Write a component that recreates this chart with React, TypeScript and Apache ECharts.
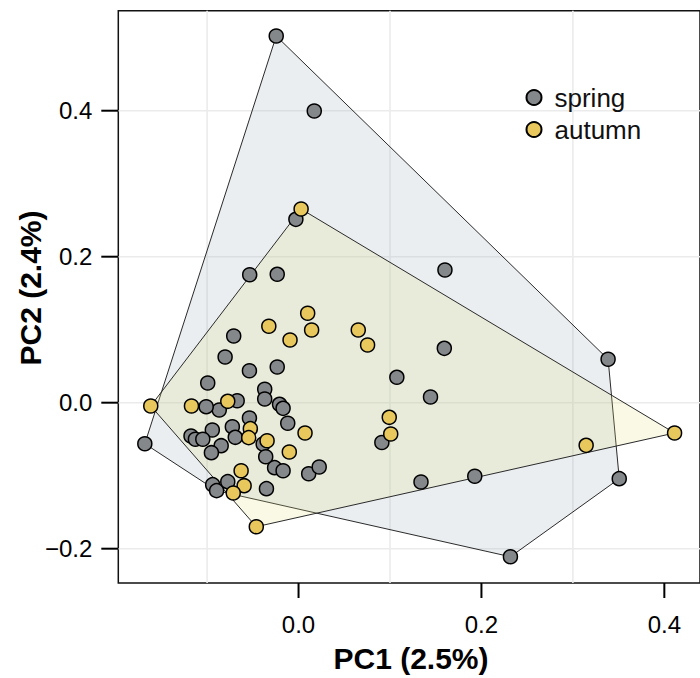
import React, { useEffect, useRef } from 'react';
import * as echarts from 'echarts';

const seriesNames = ['spring', 'autumn'];

const springPoints: [number, number][] = [
  [-0.0244, 0.5023], [0.0172, 0.3996], [-0.0029, 0.2512], [-0.0534, 0.1753],
  [-0.0233, 0.1759], [0.1601, 0.1818], [0.3385, 0.0595], [0.3507, -0.1041],
  [0.2317, -0.2110], [0.1927, -0.1008], [0.1339, -0.1086], [0.1594, 0.0745],
  [0.1443, 0.0078], [0.1075, 0.0348], [0.0911, -0.0545], [-0.1681, -0.0562],
  [-0.0709, 0.0914], [-0.0803, 0.0626], [-0.0537, 0.0438], [-0.0233, 0.0489],
  [-0.0993, 0.0270], [-0.0370, 0.0184], [-0.0370, 0.0051], [-0.0671, 0.0027],
  [-0.0867, -0.0100], [-0.1010, -0.0055], [-0.0208, -0.0022], [-0.0169, -0.0077],
  [-0.0537, -0.0210], [-0.0118, -0.0282], [-0.0724, -0.0329], [-0.0943, -0.0374],
  [-0.1176, -0.0456], [-0.1128, -0.0501], [-0.1047, -0.0501], [-0.0692, -0.0474],
  [-0.0846, -0.0589], [-0.0953, -0.0685], [-0.0387, -0.0566], [-0.0359, -0.0740],
  [-0.0262, -0.0890], [-0.0169, -0.0932], [0.0111, -0.0973], [0.0226, -0.0881],
  [-0.0939, -0.1123], [-0.0896, -0.1205], [-0.0774, -0.1082], [-0.0351, -0.1178],
];

const autumnPoints: [number, number][] = [
  [0.0028, 0.2653], [0.0100, 0.1225], [-0.0325, 0.1047], [0.0143, 0.0996],
  [-0.0093, 0.0859], [0.0653, 0.0996], [0.0755, 0.0790], [-0.1616, -0.0045],
  [-0.1171, -0.0045], [-0.0774, 0.0019], [-0.0527, -0.0356], [-0.0545, -0.0479],
  [-0.0344, -0.0521], [0.0071, -0.0415], [-0.0101, -0.0675], [-0.0628, -0.0932],
  [-0.0595, -0.1137], [-0.0714, -0.1237], [-0.0462, -0.1699], [0.0992, -0.0200],
  [0.1008, -0.0429], [0.3145, -0.0584], [0.4112, -0.0415],
];

const xTicks = [0, 0.2, 0.4];
const yTicks = [-0.2, 0, 0.2, 0.4];
const xGridValues = [-0.1, 0.1, 0.3];
const yGridValues = [-0.2, 0, 0.2, 0.4];
const xRange = [-0.1971, 0.439];
const yRange = [-0.247, 0.537];
const xTitle = 'PC1 (2.5%)';
const yTitle = 'PC2 (2.4%)';

const FONT = "'Liberation Sans', Arial, Helvetica, sans-serif";

function convexHull(points: [number, number][]): [number, number][] {
  const p = [...points].sort((a, b) => a[0] - b[0] || a[1] - b[1]);
  const cross = (o: number[], a: number[], b: number[]) =>
    (a[0] - o[0]) * (b[1] - o[1]) - (a[1] - o[1]) * (b[0] - o[0]);
  const lower: [number, number][] = [];
  for (const pt of p) {
    while (lower.length >= 2 && cross(lower[lower.length - 2], lower[lower.length - 1], pt) <= 0) lower.pop();
    lower.push(pt);
  }
  const upper: [number, number][] = [];
  for (let i = p.length - 1; i >= 0; i--) {
    const pt = p[i];
    while (upper.length >= 2 && cross(upper[upper.length - 2], upper[upper.length - 1], pt) <= 0) upper.pop();
    upper.push(pt);
  }
  upper.pop();
  lower.pop();
  return lower.concat(upper);
}

const fmt = (v: number) => (v < 0 ? '\u2212' : '') + Math.abs(v).toFixed(1);

export default function App() {
  const ref = useRef<HTMLDivElement>(null);
  useEffect(() => {
    if (!ref.current) return;
    const chart = echarts.init(ref.current, undefined, { renderer: 'svg' });
    const springHull = convexHull(springPoints);
    const autumnHull = convexHull(autumnPoints);

    const hullSeries = (name: string, hull: [number, number][], fill: string, z: number) => ({
      type: 'custom',
      name: name + '-hull',
      z,
      silent: true,
      data: hull,
      encode: { x: 0, y: 1 },
      renderItem: (params: any, api: any) => {
        if (params.dataIndex !== 0) return null;
        const pts = hull.map((p) => api.coord(p));
        return {
          type: 'polygon',
          shape: { points: pts },
          style: { fill, stroke: '#2a2a2a', lineWidth: 1 },
        };
      },
    });

    const axisCommon = {
      type: 'value',
      axisLine: { show: false, onZero: false },
      axisTick: { show: false },
      splitLine: { show: false },
    };

    chart.setOption({
      animation: false,
      grid: {
        left: 118.3,
        top: 10.7,
        width: 591.8,
        height: 572.3,
        show: true,
        borderColor: '#111',
        borderWidth: 1.5,
        backgroundColor: 'transparent',
      },
      xAxis: [
        {
          ...axisCommon,
          min: xRange[0],
          max: xRange[1],
          position: 'bottom',
          axisLabel: {
            customValues: xTicks,
            formatter: (v: number) => fmt(v),
            margin: 29,
            fontSize: 24,
            color: '#000',
            fontFamily: FONT,
          },
        },
        {
          ...axisCommon,
          min: xRange[0],
          max: xRange[1],
          position: 'bottom',
          offset: 0,
          axisLabel: {
            customValues: xTicks,
            formatter: () => '{t| }',
            margin: 0,
            fontSize: 2,
            lineHeight: 15,
            rich: { t: { width: 2, height: 15, lineHeight: 15, fontSize: 2, backgroundColor: '#000' } },
          },
        },
      ],
      yAxis: [
        {
          ...axisCommon,
          min: yRange[0],
          max: yRange[1],
          position: 'left',
          axisLabel: {
            customValues: yTicks,
            formatter: (v: number) => fmt(v),
            margin: 26,
            fontSize: 24,
            color: '#000',
            fontFamily: FONT,
          },
        },
        {
          ...axisCommon,
          min: yRange[0],
          max: yRange[1],
          position: 'left',
          offset: 0,
          axisLabel: {
            customValues: yTicks,
            formatter: () => '{t| }',
            margin: 0,
            fontSize: 2,
            lineHeight: 2,
            rich: { t: { width: 17, height: 2, lineHeight: 2, fontSize: 2, backgroundColor: '#000' } },
          },
        },
      ],
      legend: {
        data: seriesNames,
        orient: 'vertical',
        left: 525.5,
        top: 84.5,
        padding: 0,
        icon: 'circle',
        itemWidth: 15,
        itemHeight: 15,
        itemGap: 6,
        textStyle: { fontSize: 26, color: '#111', fontFamily: FONT, padding: [0, 0, 0, 8] },
      },
      graphic: [
        {
          type: 'text',
          x: 411,
          y: 658,
          style: {
            text: xTitle,
            fontSize: 30,
            fontWeight: 'bold',
            fontFamily: FONT,
            fill: '#000',
            textAlign: 'center',
            textVerticalAlign: 'middle',
          },
        },
        {
          type: 'text',
          x: 30,
          y: 288,
          rotation: Math.PI / 2,
          style: {
            text: yTitle,
            fontSize: 30,
            fontWeight: 'bold',
            fontFamily: FONT,
            fill: '#000',
            textAlign: 'center',
            textVerticalAlign: 'middle',
          },
        },
      ],
      series: [
        {
          type: 'custom',
          name: 'vgrid',
          z: 0,
          silent: true,
          data: xGridValues.map((v) => [v, 0]),
          encode: { x: 0, y: 1 },
          renderItem: (params: any, api: any) => {
            const cs = params.coordSys;
            const px = api.coord([api.value(0), 0])[0];
            return {
              type: 'line',
              shape: { x1: px, y1: cs.y, x2: px, y2: cs.y + cs.height },
              style: { stroke: '#ebebeb', lineWidth: 1.6 },
            };
          },
        },
        {
          type: 'custom',
          name: 'hgrid',
          z: 0,
          silent: true,
          data: yGridValues.map((v) => [0, v]),
          encode: { x: 0, y: 1 },
          renderItem: (params: any, api: any) => {
            const cs = params.coordSys;
            const py = api.coord([0, api.value(1)])[1];
            return {
              type: 'line',
              shape: { x1: cs.x, y1: py, x2: cs.x + cs.width, y2: py },
              style: { stroke: '#ebebeb', lineWidth: 1.6 },
            };
          },
        },
        hullSeries('spring', springHull, 'rgba(150,170,180,0.2)', 1),
        hullSeries('autumn', autumnHull, 'rgba(225,225,130,0.2)', 2),
        {
          type: 'scatter',
          name: 'spring',
          z: 3,
          data: springPoints,
          symbol: 'circle',
          symbolSize: 14,
          itemStyle: { color: '#85888b', borderColor: '#000', borderWidth: 1.5, opacity: 1 },
        },
        {
          type: 'scatter',
          name: 'autumn',
          z: 4,
          data: autumnPoints,
          symbol: 'circle',
          symbolSize: 14,
          itemStyle: { color: '#e8c85c', borderColor: '#000', borderWidth: 1.5, opacity: 1 },
        },
      ],
    });

    return () => chart.dispose();
  }, []);
  return (
    <div
      ref={ref}
      style={{ position: 'absolute', left: 0, top: 0, width: 700, height: 678, overflow: 'hidden' }}
    />
  );
}
